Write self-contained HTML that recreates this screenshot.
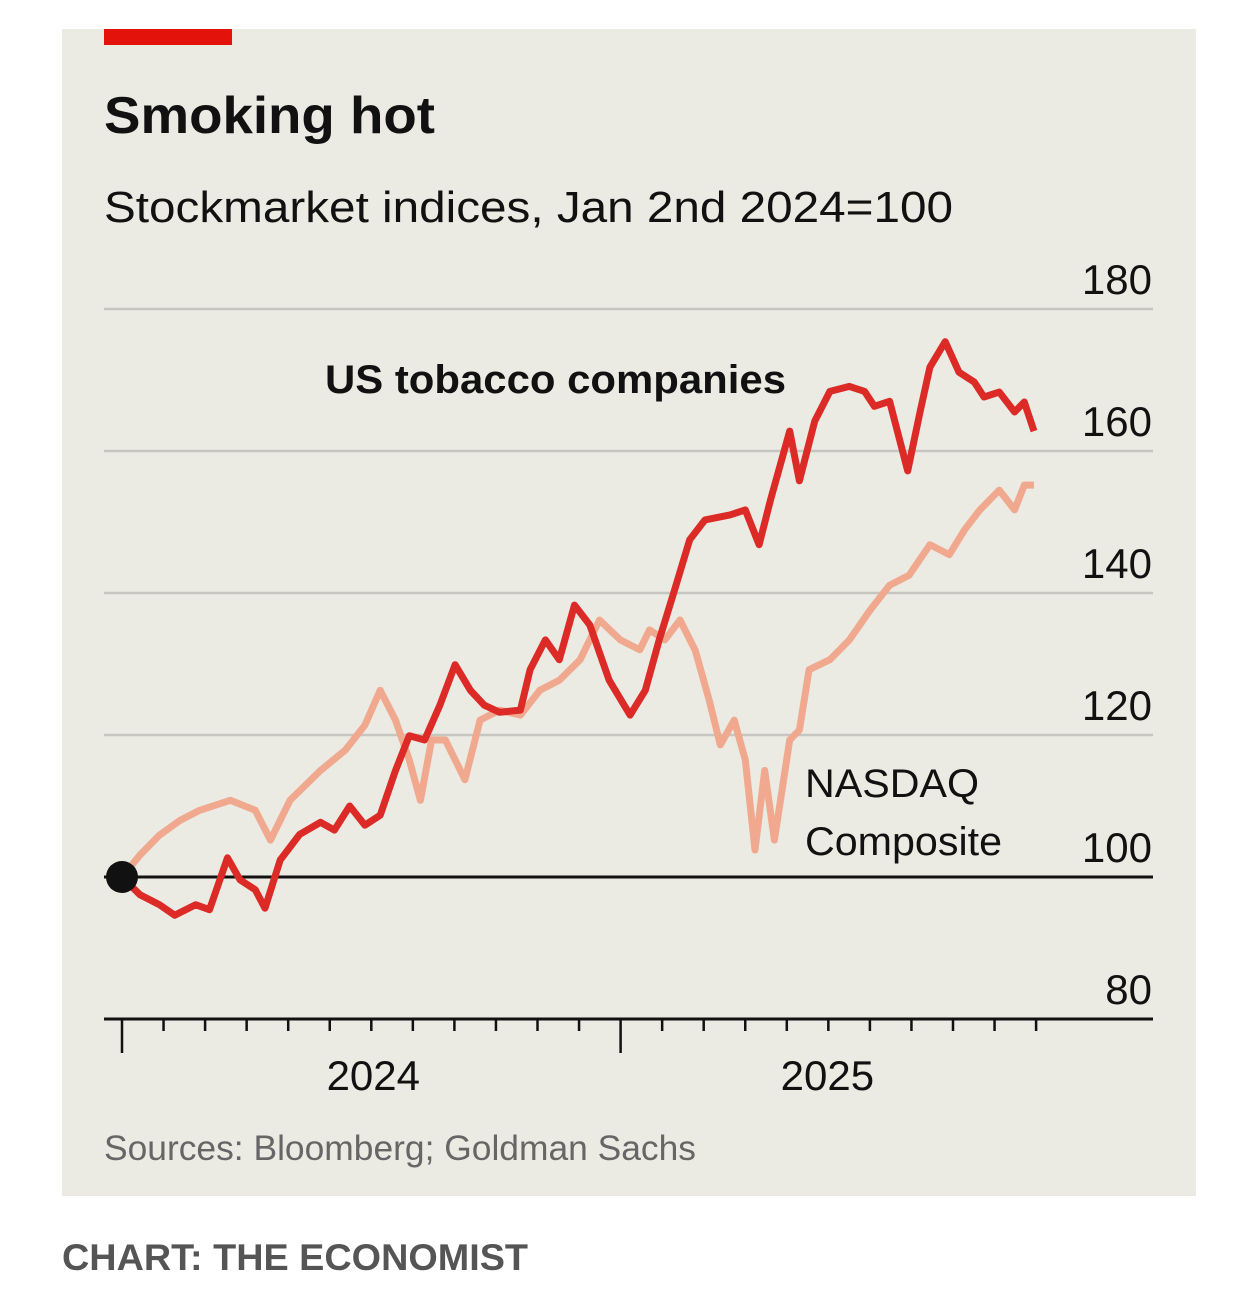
<!DOCTYPE html>
<html><head><meta charset="utf-8"><style>
html,body{margin:0;padding:0;background:#fff;}
svg{display:block;font-family:"Liberation Sans",sans-serif;}
</style></head><body>
<svg width="1233" height="1307" viewBox="0 0 1233 1307">
<rect x="62" y="29" width="1134" height="1167" fill="#ebebe3"/>
<rect x="104" y="29" width="128" height="16" fill="#e3120b"/>
<text x="104" y="133" font-size="52" font-weight="bold" fill="#111" textLength="331" lengthAdjust="spacingAndGlyphs">Smoking hot</text>
<text x="104" y="222" font-size="44" fill="#111" textLength="849" lengthAdjust="spacingAndGlyphs">Stockmarket indices, Jan 2nd 2024=100</text>
<g id="grid"></g>
<g id="xaxis"></g>
<g id="series"></g>
<text x="325" y="393" font-size="40" font-weight="bold" fill="#111" textLength="461" lengthAdjust="spacingAndGlyphs">US tobacco companies</text>
<text x="805" y="797" font-size="40" fill="#111" textLength="174" lengthAdjust="spacingAndGlyphs">NASDAQ</text>
<text x="805" y="855" font-size="40" fill="#111" textLength="197" lengthAdjust="spacingAndGlyphs">Composite</text>
<text x="104" y="1160" font-size="35" fill="#666" textLength="592" lengthAdjust="spacingAndGlyphs">Sources: Bloomberg; Goldman Sachs</text>
<text x="62" y="1270" font-size="37" font-weight="bold" fill="#555" textLength="466" lengthAdjust="spacingAndGlyphs">CHART: THE ECONOMIST</text>
</svg>
<script>
const yTicks=[80,100,120,140,160,180];
const xYearLabels=["2024","2025"];
const xYearLabelMonths=[6,17];
const tobDays=[0,13,27,38,53,63,76,85,96,103,114,128,143,153,164,175,186,197,207,218,229,240,251,261,272,287,294,305,315,326,337,351,366,377,387,398,409,420,438,449,459,467,481,488,499,510,524,535,542,553,566,575,582,593,603,614,621,632,643,650,657];
const tobVals=[100,97.5,96.1,94.6,96.1,95.4,102.7,99.6,98.2,95.6,102.4,106,107.7,106.6,110,107.3,108.7,115,119.9,119.3,124.2,129.9,126.3,124.2,123.2,123.5,129.2,133.4,130.6,138.3,135.5,127.7,122.8,126.3,133.4,140.4,147.5,150.3,151,151.7,146.8,153,162.8,155.8,164.2,168.4,169.1,168.4,166.3,167,157.2,165.6,171.8,175.4,171.1,169.7,167.6,168.3,165.5,166.9,162.8];
const nasDays=[0,13,27,42,56,78,96,107,121,143,161,175,186,197,207,215,223,233,247,258,272,287,301,315,330,344,359,373,380,391,402,413,423,431,441,449,456,463,470,481,488,495,510,524,539,553,567,582,596,607,618,632,643,650,657];
const nasVals=[100,103.1,105.9,108,109.4,110.8,109.4,105.2,110.8,115,117.9,121.4,126.3,122.1,116.5,110.8,119.3,119.3,113.7,122.1,123.5,122.8,126.3,127.7,130.6,136.2,133.4,132,134.8,133.4,136.2,131.9,124.9,118.6,122.1,116.5,103.8,115,105.2,119.3,120.7,129.2,130.6,133.4,137.6,141.1,142.5,146.8,145.4,148.9,151.7,154.5,151.7,155.2,155.2];
const NS="http://www.w3.org/2000/svg";
const MW=41.55;
const y=v=>877-(v-100)*7.1;
const x=d=>122+d/0.7204;
const grid=document.getElementById('grid');
yTicks.forEach(t=>{
  const l=document.createElementNS(NS,'line');
  l.setAttribute('x1',104);l.setAttribute('x2',1153);l.setAttribute('y1',y(t));l.setAttribute('y2',y(t));
  const base=(t===80||t===100);
  l.setAttribute('stroke',base?'#111':'#c6c6c0');l.setAttribute('stroke-width',base?3:2.5);
  
  
  grid.appendChild(l);
  const tx=document.createElementNS(NS,'text');
  tx.setAttribute('x',1152);tx.setAttribute('y',y(t)-15);tx.setAttribute('text-anchor','end');
  tx.setAttribute('font-size','42');tx.setAttribute('fill','#111');
  tx.textContent=t;
  
  
  grid.appendChild(tx);
});
const xa=document.getElementById('xaxis');
for(let m=0;m<=22;m++){
  const xx=122+m*MW;
  const l=document.createElementNS(NS,'line');
  const tall=(m%12===0);
  l.setAttribute('x1',xx);l.setAttribute('x2',xx);l.setAttribute('y1',1019);l.setAttribute('y2',tall?1053:1031);
  l.setAttribute('stroke','#111');l.setAttribute('stroke-width',2.5);
  
  
  xa.appendChild(l);
}
xYearLabels.forEach((lab,i)=>{
  const tx=document.createElementNS(NS,'text');
  tx.setAttribute('x',122+xYearLabelMonths[i]*MW+(i?-1:2));tx.setAttribute('y',1090);tx.setAttribute('text-anchor','middle');
  tx.setAttribute('font-size','42');tx.setAttribute('fill','#111');
  tx.textContent=lab;
  
  
  xa.appendChild(tx);
});
const s=document.getElementById('series');
function line(days,vals,color,name){
  const p=document.createElementNS(NS,'polyline');
  p.setAttribute('points',days.map((d,i)=>x(d).toFixed(1)+','+y(vals[i]).toFixed(1)).join(' '));
  p.setAttribute('fill','none');p.setAttribute('stroke',color);p.setAttribute('stroke-width',7);
  p.setAttribute('stroke-linejoin','round');
  
  
  s.appendChild(p);
}
line(nasDays,nasVals,'#f0a98f','nasdaq-line');
line(tobDays,tobVals,'#dc2a27','tobacco-line');
const c=document.createElementNS(NS,'circle');
c.setAttribute('cx',122);c.setAttribute('cy',877);c.setAttribute('r',16);c.setAttribute('fill','#111');


s.appendChild(c);
</script>
</body></html>
